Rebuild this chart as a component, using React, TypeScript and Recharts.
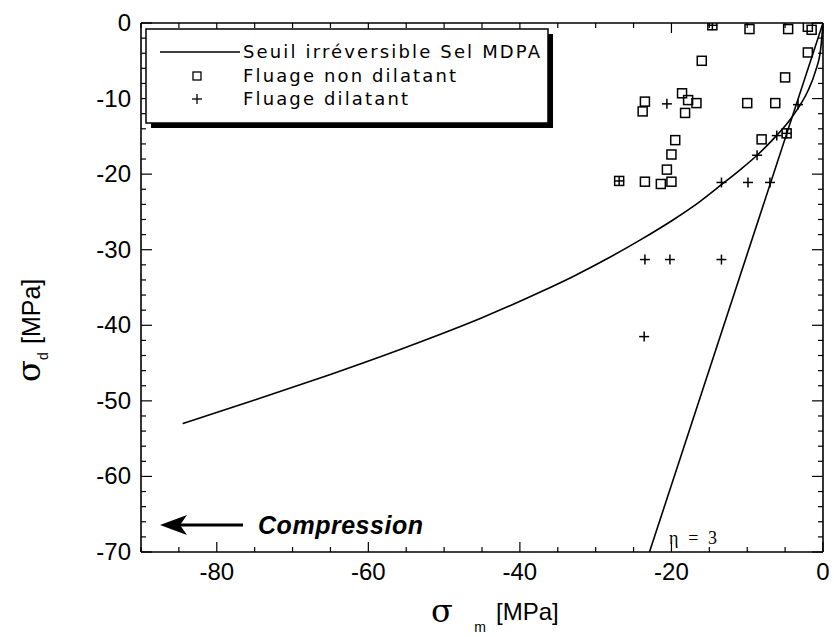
import React from "react";
import { ScatterChart, Scatter, XAxis, YAxis } from "recharts";

// σm [MPa] / σd [MPa]
const seuilCurve = [
  { sm: -84.5, sd: -53 },
  { sm: -75, sd: -49.9 },
  { sm: -65, sd: -46.5 },
  { sm: -55, sd: -42.9 },
  { sm: -45, sd: -39.0 },
  { sm: -37.3, sd: -35.6 },
  { sm: -32.9, sd: -33.5 },
  { sm: -28.5, sd: -31.2 },
  { sm: -24.1, sd: -28.7 },
  { sm: -19.7, sd: -26.0 },
  { sm: -16.2, sd: -23.6 },
  { sm: -13.4, sd: -21.4 },
  { sm: -10.9, sd: -19.4 },
  { sm: -8.7, sd: -17.5 },
  { sm: -6.6, sd: -15.4 },
  { sm: -4.5, sd: -13.0 },
  { sm: -3.3, sd: -11.3 },
  { sm: -2, sd: -9.0 },
  { sm: -1, sd: -6.4 },
  { sm: -0.3, sd: -3.4 },
  { sm: 0, sd: 0 },
];

const etaLine = [
  { sm: -22.9, sd: -70 },
  { sm: 0, sd: 0 },
];

const nonDilatant = [
  { sm: -14.6, sd: -0.3 },
  { sm: -9.7, sd: -0.8 },
  { sm: -4.6, sd: -0.8 },
  { sm: -2.0, sd: -0.5 },
  { sm: -1.5, sd: -0.9 },
  { sm: -2.0, sd: -3.9 },
  { sm: -16.0, sd: -5.0 },
  { sm: -5.0, sd: -7.2 },
  { sm: -23.5, sd: -10.4 },
  { sm: -23.8, sd: -11.7 },
  { sm: -18.6, sd: -9.3 },
  { sm: -17.8, sd: -10.2 },
  { sm: -16.7, sd: -10.6 },
  { sm: -18.2, sd: -11.9 },
  { sm: -10.0, sd: -10.6 },
  { sm: -6.3, sd: -10.6 },
  { sm: -19.5, sd: -15.5 },
  { sm: -20.0, sd: -17.4 },
  { sm: -8.1, sd: -15.4 },
  { sm: -4.8, sd: -14.6 },
  { sm: -20.6, sd: -19.4 },
  { sm: -26.9, sd: -20.9 },
  { sm: -23.5, sd: -21.0 },
  { sm: -21.4, sd: -21.3 },
  { sm: -20.0, sd: -21.0 },
];

const dilatant = [
  { sm: -14.6, sd: -0.3 },
  { sm: -20.6, sd: -10.7 },
  { sm: -3.3, sd: -10.8 },
  { sm: -6.1, sd: -14.9 },
  { sm: -4.8, sd: -14.6 },
  { sm: -8.7, sd: -17.5 },
  { sm: -13.4, sd: -21.1 },
  { sm: -9.9, sd: -21.1 },
  { sm: -7.0, sd: -21.1 },
  { sm: -26.9, sd: -20.9 },
  { sm: -23.5, sd: -31.3 },
  { sm: -20.2, sd: -31.3 },
  { sm: -13.4, sd: -31.3 },
  { sm: -23.6, sd: -41.5 },
];

const xTicks = [-90, -85, -80, -75, -70, -65, -60, -55, -50, -45, -40, -35, -30, -25, -20, -15, -10, -5, 0];
const yTicks = [0, -2, -4, -6, -8, -10, -12, -14, -16, -18, -20, -22, -24, -26, -28, -30, -32, -34, -36, -38, -40, -42, -44, -46, -48, -50, -52, -54, -56, -58, -60, -62, -64, -66, -68, -70];
const xLabelTicks = [-80, -60, -40, -20, 0];
const yLabelTicks = [0, -10, -20, -30, -40, -50, -60, -70];

const legendLabels = ["Seuil irréversible Sel MDPA", "Fluage non dilatant", "Fluage dilatant"];

const TICK_FONT = "'Liberation Sans', Arial, Helvetica, sans-serif";
const LEGEND_FONT = "'DejaVu Sans', Verdana, sans-serif";

const BottomTick = (props: any) => {
  const { x, y, payload } = props;
  const major = xLabelTicks.includes(payload.value);
  return (
    <g>
      <line x1={x} y1={y} x2={x} y2={y - (major ? 10 : 5)} stroke="#000" strokeWidth={1.2} />
      {major && (
        <text x={x} y={y + 28} textAnchor="middle" fontFamily={TICK_FONT} fontSize={24} fill="#000">
          {payload.value}
        </text>
      )}
    </g>
  );
};

const TopTick = (props: any) => {
  const { x, y, payload } = props;
  const major = xLabelTicks.includes(payload.value);
  return <line x1={x} y1={y} x2={x} y2={y + (major ? 10 : 5)} stroke="#000" strokeWidth={1.2} />;
};

const LeftTick = (props: any) => {
  const { x, y, payload } = props;
  const major = yLabelTicks.includes(payload.value);
  return (
    <g>
      <line x1={x} y1={y} x2={x + (major ? 11 : 5)} y2={y} stroke="#000" strokeWidth={1.2} />
      {major && (
        <text x={x - 10} y={y + 8} textAnchor="end" fontFamily={TICK_FONT} fontSize={24} fill="#000">
          {payload.value}
        </text>
      )}
    </g>
  );
};

const RightTick = (props: any) => {
  const { x, y, payload } = props;
  const major = yLabelTicks.includes(payload.value);
  return <line x1={x} y1={y} x2={x - (major ? 11 : 5)} y2={y} stroke="#000" strokeWidth={1.2} />;
};

const SquareShape = (props: any) => {
  const { cx, cy } = props;
  return <rect x={cx - 4.5} y={cy - 4.5} width={9} height={9} fill="none" stroke="#000" strokeWidth={1.5} />;
};

const CrossShape = (props: any) => {
  const { cx, cy } = props;
  return (
    <g stroke="#000" strokeWidth={1.5}>
      <line x1={cx - 5} y1={cy} x2={cx + 5} y2={cy} />
      <line x1={cx} y1={cy - 5} x2={cx} y2={cy + 5} />
    </g>
  );
};

const NoShape = () => <g />;

const axisLine = { stroke: "#000", strokeWidth: 1.6 };

export default function App() {
  return (
    <div style={{ position: "absolute", left: 0, top: 0, width: 834, height: 637, background: "#fff" }}>
      <ScatterChart width={834} height={637} margin={{ top: 22, right: 10, bottom: 0, left: 0 }}>
        <XAxis
          xAxisId="b"
          type="number"
          dataKey="sm"
          domain={[-90, 0]}
          ticks={xTicks}
          interval={0}
          allowDataOverflow
          tickSize={0}
          tickMargin={0}
          tickLine={false}
          axisLine={axisLine}
          tick={<BottomTick />}
          height={85}
        />
        <XAxis
          xAxisId="t"
          orientation="top"
          type="number"
          dataKey="sm"
          domain={[-90, 0]}
          ticks={xTicks}
          interval={0}
          allowDataOverflow
          tickSize={0}
          tickMargin={0}
          tickLine={false}
          axisLine={axisLine}
          tick={<TopTick />}
          height={1}
        />
        <YAxis
          yAxisId="l"
          type="number"
          dataKey="sd"
          domain={[-70, 0]}
          ticks={yTicks}
          interval={0}
          allowDataOverflow
          tickSize={0}
          tickMargin={0}
          tickLine={false}
          axisLine={axisLine}
          tick={<LeftTick />}
          width={141}
        />
        <YAxis
          yAxisId="r"
          orientation="right"
          type="number"
          dataKey="sd"
          domain={[-70, 0]}
          ticks={yTicks}
          interval={0}
          allowDataOverflow
          tickSize={0}
          tickMargin={0}
          tickLine={false}
          axisLine={axisLine}
          tick={<RightTick />}
          width={1}
        />
        <Scatter
          xAxisId="b"
          yAxisId="l"
          data={seuilCurve}
          line={{ stroke: "#000", strokeWidth: 1.6 }}
          lineJointType="monotoneX"
          shape={<NoShape />}
          isAnimationActive={false}
        />
        <Scatter
          xAxisId="b"
          yAxisId="l"
          data={etaLine}
          line={{ stroke: "#000", strokeWidth: 1.6 }}
          shape={<NoShape />}
          isAnimationActive={false}
        />
        <Scatter xAxisId="b" yAxisId="l" data={nonDilatant} shape={<SquareShape />} isAnimationActive={false} />
        <Scatter xAxisId="b" yAxisId="l" data={dilatant} shape={<CrossShape />} isAnimationActive={false} />
      </ScatterChart>

      <svg width={834} height={637} style={{ position: "absolute", left: 0, top: 0, pointerEvents: "none" }}>
        {/* legend */}
        <rect x={151} y={34} width={402} height={94} fill="#000" />
        <rect x={146} y={29} width={402} height={94} fill="#fff" stroke="#000" strokeWidth={1.5} />
        <line x1={160} y1={52} x2={240} y2={52} stroke="#000" strokeWidth={1.3} />
        <rect x={193} y={72} width={8} height={8} fill="none" stroke="#000" strokeWidth={1.3} />
        <g stroke="#000" strokeWidth={1.3}>
          <line x1={192} y1={99} x2={202} y2={99} />
          <line x1={197} y1={94} x2={197} y2={104} />
        </g>
        <text x={243} y={58} fontFamily={LEGEND_FONT} fontSize={18} textLength={297} lengthAdjust="spacing">
          {legendLabels[0]}
        </text>
        <text x={243} y={82} fontFamily={LEGEND_FONT} fontSize={18} textLength={213} lengthAdjust="spacing">
          {legendLabels[1]}
        </text>
        <text x={243} y={105} fontFamily={LEGEND_FONT} fontSize={18} textLength={165} lengthAdjust="spacing">
          {legendLabels[2]}
        </text>

        {/* compression arrow */}
        <line x1={178} y1={525} x2={243} y2={525} stroke="#000" strokeWidth={3} />
        <path d="M160,525 L187,515 L180,525 L187,535 Z" fill="#000" />
        <text x={258} y={534} fontFamily={TICK_FONT} fontSize={25} fontWeight="bold" fontStyle="italic" textLength={165} lengthAdjust="spacing">
          Compression
        </text>

        {/* eta label */}
        <text x={669} y={544} fontFamily="'Liberation Serif', 'Times New Roman', serif" fontSize={18} textLength={48} lengthAdjust="spacing">
          η = 3
        </text>

        {/* x axis title */}
        <text x={442} y={622} textAnchor="middle" fontFamily="'DejaVu Serif', 'Liberation Serif', serif" fontSize={32}>
          σ
        </text>
        <text x={480} y={632} textAnchor="middle" fontFamily={TICK_FONT} fontSize={14}>
          m
        </text>
        <text x={496} y={620} fontFamily={TICK_FONT} fontSize={24}>
          [MPa]
        </text>

        {/* y axis title */}
        <g transform="translate(40,312) rotate(-90)">
          <text x={-70} y={0} fontFamily="'DejaVu Serif', 'Liberation Serif', serif" fontSize={32}>
            σ
          </text>
          <text x={-48} y={8} fontFamily={TICK_FONT} fontSize={14}>
            d
          </text>
          <text x={-32} y={0} fontFamily={TICK_FONT} fontSize={25}>
            [MPa]
          </text>
        </g>
      </svg>
    </div>
  );
}
